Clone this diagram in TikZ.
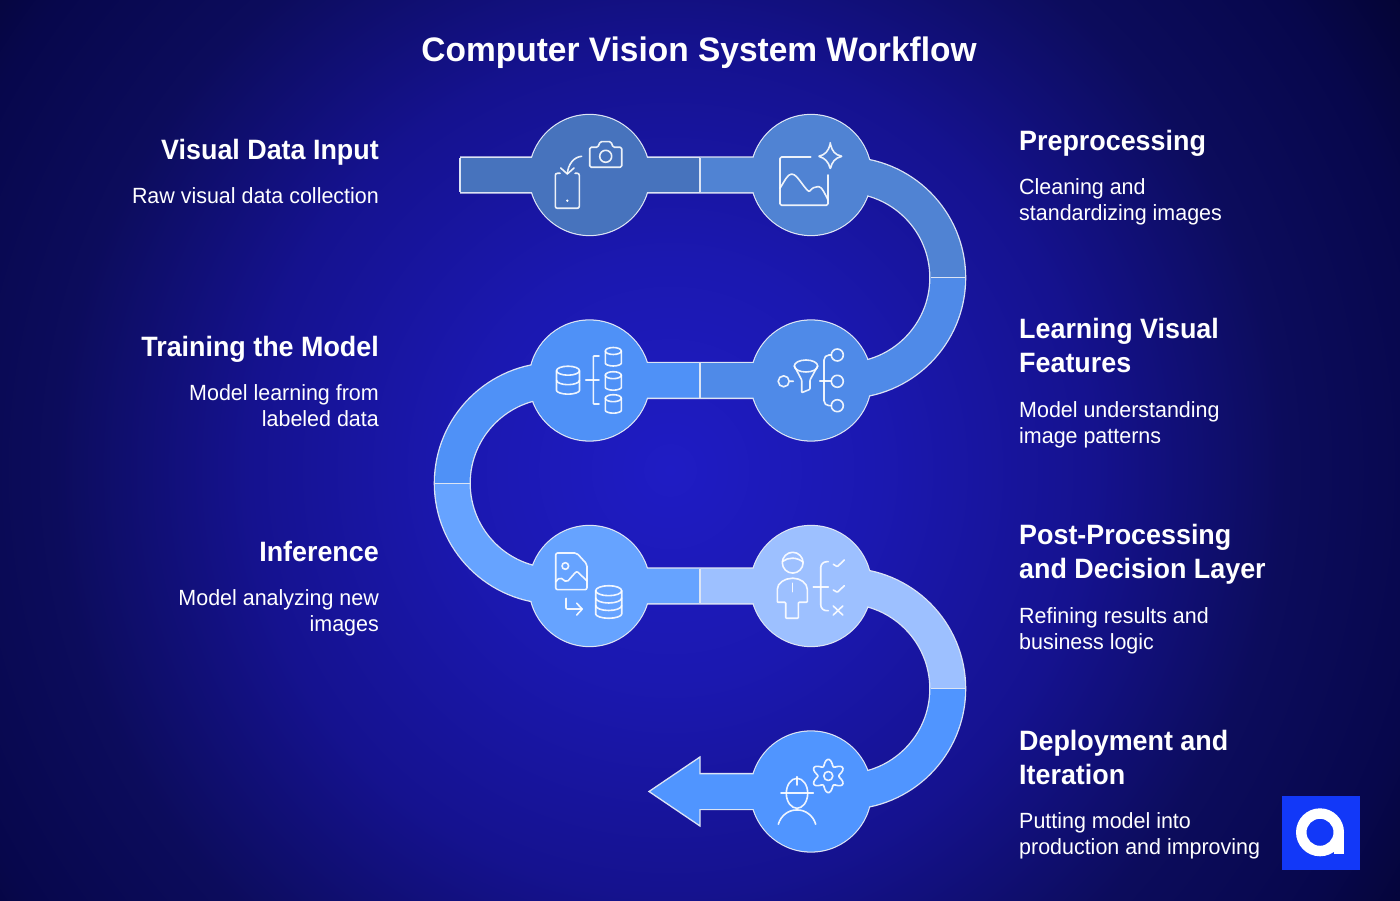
\documentclass[tikz,border=0pt]{standalone}
\usepackage{fontspec}
\setmainfont{Liberation Sans}
\newfontfamily\bannerfont[FakeStretch=0.985]{Liberation Sans}
\newfontfamily\titlefont[FakeStretch=0.96]{Liberation Sans}
\newfontfamily\notefont[FakeStretch=0.975]{Liberation Sans}
\usetikzlibrary{positioning,calc}

\definecolor{seg1}{HTML}{4773BD}
\definecolor{seg2}{HTML}{5083D3}
\definecolor{seg3}{HTML}{4F8AE8}
\definecolor{seg4}{HTML}{4F91F7}
\definecolor{seg5}{HTML}{66A3FF}
\definecolor{seg6}{HTML}{9DC0FF}
\definecolor{seg7}{HTML}{5095FF}
\definecolor{rim}{HTML}{DCE4F4}
\definecolor{logoblue}{HTML}{1238F8}
\definecolor{glow0}{HTML}{1F1CC4}
\definecolor{glow1}{HTML}{1B18B0}
\definecolor{glow2}{HTML}{15128F}
\definecolor{glow3}{HTML}{0C0C5C}
\definecolor{glow4}{HTML}{07074C}
\definecolor{glow5}{HTML}{020220}
\definecolor{glow6}{HTML}{020212}

\pgfdeclareradialshading{bgglow}{\pgfpoint{0bp}{0bp}}{
  color(0bp)=(glow0);
  color(7bp)=(glow1);
  color(14bp)=(glow2);
  color(20.5bp)=(glow3);
  color(25.7bp)=(glow4);
  color(32bp)=(glow5);
  color(36bp)=(glow6);
  color(50bp)=(glow6)}

\tikzset{
  stepdisc/.style={circle,draw=rim,line width=1.3pt,minimum size=121pt,inner sep=0pt},
  rimband/.style={draw=rim,line width=37.1pt},
  band/.style={line width=34.5pt},
  seam/.style={draw=rim,line width=1.3pt},
  glyph/.style={draw=white,opacity=.9,line width=1.6pt,line cap=round,line join=round,rounded corners=.8pt},
  pxgrid/.style={shift={(0,900)},yscale=-1},
  steptitle/.style={text=white,inner sep=0pt,font=\fontsize{28}{34}\selectfont\titlefont\bfseries},
  stepnote/.style={text=white,inner sep=0pt,font=\fontsize{22}{26}\selectfont\notefont},
}

% x, top y, half width, ellipse height, side length
\newcommand{\drumglyph}[5]{
  \draw[glyph] (#1,#2) ellipse [x radius=#3,y radius=#4];
  \draw[glyph] (#1-#3,#2) -- ++(0,#5) arc [start angle=180,end angle=0,x radius=#3,y radius=#4] -- ++(0,-#5);
}

\begin{document}
\begin{tikzpicture}[x=1pt,y=1pt]
  \useasboundingbox (0,0) rectangle (1400,900);
  \begin{scope}
    \clip (0,0) rectangle (1400,900);
    \shade[shading=bgglow] (-80,-320) rectangle (1420,1180);
  \end{scope}

  \node[font=\fontsize{34}{40}\selectfont\bannerfont\bfseries,text=white,inner sep=0pt,anchor=base] (heading) at (699,838.5) {Computer Vision System Workflow};

  \node[stepdisc,fill=seg1] (step1) at (589.5,725) {};
  \node[stepdisc,fill=seg2] (step2) at (811,725) {};
  \node[stepdisc,fill=seg3] (step3) at (811,519.5) {};
  \node[stepdisc,fill=seg4] (step4) at (589.5,519.5) {};
  \node[stepdisc,fill=seg5] (step5) at (589.5,314) {};
  \node[stepdisc,fill=seg6] (step6) at (811,314) {};
  \node[stepdisc,fill=seg7] (step7) at (811,108.5) {};

  \coordinate (tail) at (460,725);
  \coordinate (split12) at (700,725);
  \coordinate (turn1) at (947.75,622.25);
  \coordinate (split34) at (700,519.5);
  \coordinate (turn2) at (452.25,416.75);
  \coordinate (split56) at (700,314);
  \coordinate (turn3) at (947.75,211.25);
  \coordinate (shaftend) at (690,108.5);

  % outline of the whole ribbon first, colours on top
  \draw[rimband] (tail) -- (step2.center) -- ++(34,0) arc [start angle=90,end angle=-90,radius=102.75]
    -- (step4.center) -- (555,519.5) arc [start angle=90,end angle=270,radius=102.75]
    -- (step6.center) -- (845,314) arc [start angle=90,end angle=-90,radius=102.75] -- (shaftend);
  \draw[seam,fill=seg7] (649,108.5) -- (700,143) -- (700,74) -- cycle;

  \draw[band,seg1] (tail) -- (split12);
  \draw[band,seg2] (split12) -- (step2.center) -- ++(34,0) arc [start angle=90,end angle=0,radius=102.75];
  \draw[band,seg3] (turn1) arc [start angle=0,end angle=-90,radius=102.75] -- (step3.center) -- (split34);
  \draw[band,seg4] (split34) -- (step4.center) -- (555,519.5) arc [start angle=90,end angle=180,radius=102.75];
  \draw[band,seg5] (turn2) arc [start angle=180,end angle=270,radius=102.75] -- (step5.center) -- (split56);
  \draw[band,seg6] (split56) -- (step6.center) -- (845,314) arc [start angle=90,end angle=0,radius=102.75];
  \draw[band,seg7] (turn3) arc [start angle=0,end angle=-90,radius=102.75] -- (step7.center) -- (shaftend);

  \fill[seg1] (step1) circle (59.9);
  \fill[seg2] (step2) circle (59.9);
  \fill[seg3] (step3) circle (59.9);
  \fill[seg4] (step4) circle (59.9);
  \fill[seg5] (step5) circle (59.9);
  \fill[seg6] (step6) circle (59.9);
  \fill[seg7] (step7) circle (59.9);

  \draw[seam] ([yshift=17.25pt]tail) -- ([yshift=-17.25pt]tail);
  \draw[seam] ([yshift=17.25pt]split12) -- ([yshift=-17.25pt]split12);
  \draw[seam] ([xshift=-17.25pt]turn1) -- ([xshift=17.25pt]turn1);
  \draw[seam] ([yshift=17.25pt]split34) -- ([yshift=-17.25pt]split34);
  \draw[seam] ([xshift=-17.25pt]turn2) -- ([xshift=17.25pt]turn2);
  \draw[seam] ([yshift=17.25pt]split56) -- ([yshift=-17.25pt]split56);
  \draw[seam] ([xshift=-17.25pt]turn3) -- ([xshift=17.25pt]turn3);

  \begin{scope}[pxgrid]
    % phone and camera
    \draw[glyph,rounded corners=1.5pt] (589.7,147.3) -- (598,147.3) -- (600,141.7) -- (611,141.7) -- (613,147.3) -- (621.7,147.3) -- (621.7,167.3) -- (589.7,167.3) -- cycle;
    \draw[glyph] (605.7,156.3) circle (6);
    \draw[glyph,rounded corners=2pt] (560,173.3) -- (555.3,173.3) -- (555.3,208.3) -- (579.3,208.3) -- (579.3,173.3) -- (575,173.3);
    \fill[white] (567.3,200.7) circle (1.3);
    \draw[glyph] (581.7,156.3) .. controls (574,157) and (568,164) .. (567.3,174);
    \draw[glyph] (560.7,168) -- (567.3,174) -- (574,168);

    % picture and sparkle
    \draw[glyph,rounded corners=1.5pt] (810.7,157) -- (780,157) -- (780,205.3) -- (828,205.3) -- (828,175);
    \draw[glyph] (780,188.3) .. controls (785,180) and (788,174.3) .. (791.7,174.3) .. controls (797,174.3) and (804,188) .. (809.3,191.7) .. controls (812,188) and (815,186.7) .. (818.3,186.7) .. controls (822,187) and (825,194) .. (828,200);
    \draw[glyph] (830.3,143.5) .. controls (832,151) and (835,155) .. (842.3,156.3) .. controls (835,158) and (832,162) .. (830.3,169) .. controls (828.5,162) and (825,158) .. (818.3,156.3) .. controls (825,155) and (828.5,151) .. (830.3,143.5) -- cycle;

    % funnel and tree
    \draw[glyph] (783.7,381.3) circle (5.5) (789.2,381.3) -- (793.3,381.3);
    \draw[glyph] (806,366) ellipse [x radius=11.7,y radius=6];
    \draw[glyph] (794.3,366) -- (801.7,380) -- (801.7,392.7) -- (810,389.3) -- (810,380) -- (817.7,366);
    \draw[glyph] (819.7,381.3) -- (831.4,381.3);
    \draw[glyph,rounded corners=5pt] (831.4,355) -- (824,355) -- (824,405.7) -- (831.4,405.7);
    \draw[glyph] (837.3,355) circle (6);
    \draw[glyph] (837.3,381.3) circle (6);
    \draw[glyph] (837.3,405.7) circle (6);

    % drums
    \drumglyph{568}{370.7}{11.5}{4.5}{19}
    \draw[glyph] (556.5,380.2) arc [start angle=180,end angle=0,x radius=11.5,y radius=4.5];
    \draw[glyph] (585.7,380.3) -- (599,380.3);
    \draw[glyph] (599,356) -- (593.3,356) -- (593.3,404) -- (599,404);
    \drumglyph{613.3}{351}{8}{3.5}{11.5}
    \drumglyph{613.3}{375.2}{8}{3.5}{11.5}
    \drumglyph{613.3}{398.2}{8}{3.5}{11.5}

    % image to store
    \draw[glyph,rounded corners=2pt] (555.7,553) -- (576.7,553) -- (587,564.3) -- (587,589.7) -- (555.7,589.7) -- cycle;
    \draw[glyph] (565.3,566) circle (3.3);
    \draw[glyph,rounded corners=2pt] (555.7,581.7) -- (560,577.3) -- (566.7,582.3) -- (576.7,571) -- (587,581);
    \draw[glyph,rounded corners=1pt] (566,598.3) -- (566,609) -- (582.3,609);
    \draw[glyph] (576.7,603.3) -- (582.3,609) -- (576.7,615);
    \drumglyph{608.7}{590.7}{13}{5}{22.6}
    \draw[glyph] (595.7,598) arc [start angle=180,end angle=0,x radius=13,y radius=5];
    \draw[glyph] (595.7,605.5) arc [start angle=180,end angle=0,x radius=13,y radius=5];

    % person with options
    \draw[glyph] (792.7,562.7) circle (10.4);
    \draw[glyph] (782.5,561.5) .. controls (788,557) and (797,557) .. (803,562);
    \draw[glyph] (785.7,618.3) -- (798.3,618.3) -- (798.3,602.3) -- (807.3,602.3) -- (807.3,590) .. controls (807.3,583) and (800,578.3) .. (792.7,578.3) .. controls (785,578.3) and (777.3,583) .. (777.3,590) -- (777.3,602.3) -- (785.7,602.3) -- cycle;
    \draw[glyph] (792.3,583.3) -- (792.3,591.7);
    \draw[glyph] (813.3,587.3) -- (828.3,587.3);
    \draw[glyph,rounded corners=6pt] (828.3,561.7) -- (820.7,561.7) -- (820.7,610.7) -- (828.3,610.7);
    \draw[glyph] (833.3,564.3) -- (837.3,566.7) -- (844.3,560);
    \draw[glyph] (833.3,590) -- (837.3,592.3) -- (844.3,585.7);
    \draw[glyph] (833.3,606) -- (842.7,615) (842.7,606) -- (833.3,615);

    % helmet and gear
    \draw[glyph] (797,793.3) ellipse [x radius=10.7,y radius=15];
    \draw[glyph] (781,792.7) -- (813.3,792.7) (797,776.7) -- (797,785);
    \draw[glyph] (778.3,824.3) .. controls (781,815) and (789,810) .. (797,810) .. controls (805,810) and (813,815) .. (815.7,824.3);
    \draw[glyph] plot [smooth cycle,domain=0:354,samples=60] ({828.3+(13.5-3*cos(6*\x))*cos(\x)},{776+(13.5-3*cos(6*\x))*sin(\x)});
    \draw[glyph] (828.3,776) circle (4.5);
  \end{scope}

  \node[fill=logoblue,minimum width=78pt,minimum height=74pt,inner sep=0pt] (logo) at (1321,67) {};
  \fill[white,even odd rule] (1320,67.7) circle (24) (1320,67.7) circle (13.5);
  \fill[white] (1333.5,68) rectangle (1344,46.5);

  \node[steptitle,align=right,anchor=base east] (input) at (379,740) {Visual Data Input};
  \node[stepnote,align=right,below=44pt of input.base east,anchor=base east] (inputnote) {Raw visual data collection};
  \node[steptitle,align=right,anchor=base east] (training) at (379,543.5) {Training the Model};
  \node[stepnote,align=right,below=70.5pt of training.base east,anchor=base east] (trainingnote) {Model learning from\\labeled data};
  \node[steptitle,align=right,anchor=base east] (inference) at (379,338) {Inference};
  \node[stepnote,align=right,below=70pt of inference.base east,anchor=base east] (inferencenote) {Model analyzing new\\images};

  \node[steptitle,align=left,anchor=base west] (prep) at (1019,749) {Preprocessing};
  \node[stepnote,align=left,below=70pt of prep.base west,anchor=base west] (prepnote) {Cleaning and\\standardizing images};
  \node[steptitle,align=left,anchor=base west] (learning) at (1019,527) {Learning Visual\\Features};
  \node[stepnote,align=left,below=70.5pt of learning.base west,anchor=base west] (learningnote) {Model understanding\\image patterns};
  \node[steptitle,align=left,anchor=base west] (post) at (1019,321) {Post-Processing\\and Decision Layer};
  \node[stepnote,align=left,below=70.5pt of post.base west,anchor=base west] (postnote) {Refining results and\\business logic};
  \node[steptitle,align=left,anchor=base west] (deploy) at (1019,116) {Deployment and\\Iteration};
  \node[stepnote,align=left,below=70pt of deploy.base west,anchor=base west] (deploynote) {Putting model into\\production and improving};
\end{tikzpicture}
\end{document}
